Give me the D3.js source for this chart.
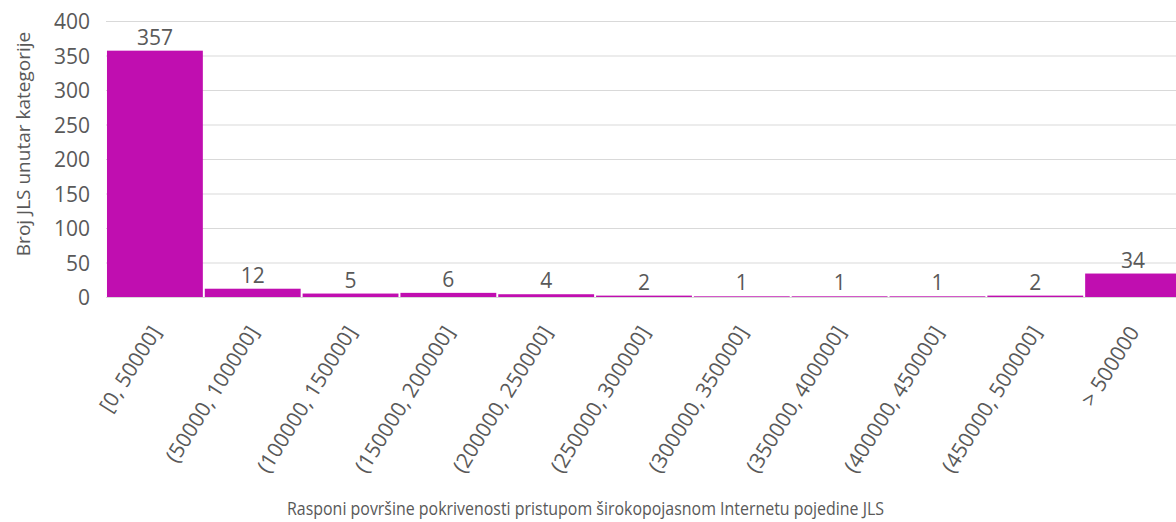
<!DOCTYPE html>
<html><head><meta charset="utf-8">
<script src="https://cdn.jsdelivr.net/npm/d3@7/dist/d3.min.js"></script>
<style>
html,body{margin:0;padding:0;background:#fff;}
svg{display:block;font-family:"Open Sans","Noto Sans",sans-serif;}
</style></head>
<body>
<svg id="chart" width="1176" height="522"></svg>
<script>
const categories = ["[0, 50000]","(50000, 100000]","(100000, 150000]","(150000, 200000]","(200000, 250000]","(250000, 300000]","(300000, 350000]","(350000, 400000]","(400000, 450000]","(450000, 500000]","> 500000"];
const values = [357, 12, 5, 6, 4, 2, 1, 1, 1, 2, 34];
const yTicks = [0, 50, 100, 150, 200, 250, 300, 350, 400];
const yTitle = "Broj JLS unutar kategorije";
const xTitle = "Rasponi površine pokrivenosti pristupom širokopojasnom Internetu pojedine JLS";

const svg = d3.select("#chart");
const mLeft = 106, mRight = 1182, mTop = 21, mBottom = 297;
const textColor = "#595959";
const barColor = "#C00EB0";
const fontFam = "'Open Sans','Noto Sans',sans-serif";

const x = d3.scaleBand().domain(categories).range([mLeft, mRight]).paddingInner(0.02).paddingOuter(0.01);
const y = d3.scaleLinear().domain([0, 400]).range([mBottom, mTop]);

// gridlines
svg.append("g").selectAll("line").data(yTicks.filter(d => d > 0)).join("line")
  .attr("x1", mLeft).attr("x2", mRight)
  .attr("y1", d => y(d) + 0.5).attr("y2", d => y(d) + 0.5)
  .attr("stroke", "#d9d9d9").attr("stroke-width", 1);

// y axis labels
const yAxis = d3.axisLeft(y).tickValues(yTicks).tickSize(0).tickPadding(0);
const gy = svg.append("g").attr("transform", `translate(${mLeft - 16},0)`).call(yAxis);
gy.select(".domain").remove();
gy.selectAll("text").attr("fill", textColor).style("font-size", "21px")
  .style("font-family", fontFam).attr("dy", "0.36em");

// bars
svg.append("g").selectAll("rect").data(values).join("rect")
  .attr("x", (d, i) => x(categories[i]))
  .attr("width", x.bandwidth())
  .attr("y", d => y(d))
  .attr("height", d => y(0) - y(d))
  .attr("fill", barColor);

// baseline
svg.append("line").attr("x1", mLeft).attr("x2", mRight)
  .attr("y1", mBottom + 0.5).attr("y2", mBottom + 0.5)
  .attr("stroke", "#d9d9d9").attr("stroke-width", 1);

// value labels
svg.append("g").selectAll("text").data(values).join("text")
  .attr("x", (d, i) => x(categories[i]) + x.bandwidth() / 2)
  .attr("y", d => y(d) - 6)
  .attr("text-anchor", "middle")
  .attr("fill", textColor).style("font-size", "21px")
  .text(d => d);

// x axis labels
const xAxis = d3.axisBottom(x).tickSize(0).tickPadding(0);
const gx = svg.append("g").attr("transform", `translate(0,${mBottom})`).call(xAxis);
gx.select(".domain").remove();
gx.selectAll("text")
  .attr("fill", textColor).style("font-size", "21px")
  .style("font-family", fontFam)
  .attr("text-anchor", "end")
  .attr("y", 0).attr("dy", 0)
  .attr("transform", "translate(7,35) rotate(-58)");

// axis titles
svg.append("text")
  .attr("transform", `translate(30,144) rotate(-90)`)
  .attr("text-anchor", "middle").attr("fill", textColor).style("font-size", "19px")
  .text(yTitle);

svg.append("text")
  .attr("x", 585.5).attr("y", 515)
  .attr("text-anchor", "middle").attr("fill", textColor).style("font-size", "18px")
  .attr("textLength", 597).attr("lengthAdjust", "spacingAndGlyphs")
  .text(xTitle);
</script>
</body></html>
